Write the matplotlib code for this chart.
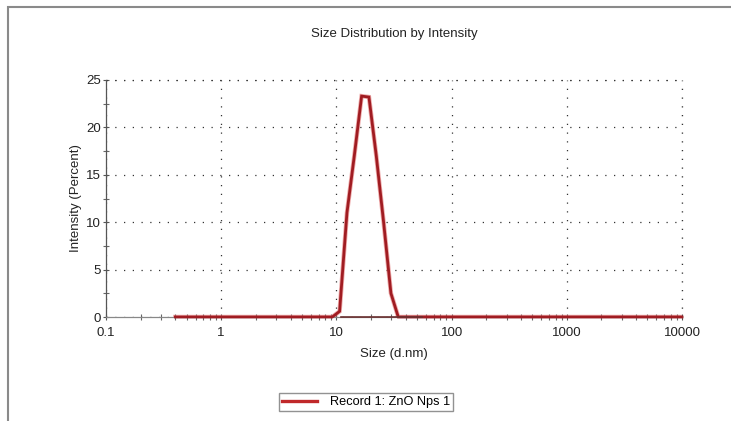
import matplotlib
matplotlib.use("Agg")
import matplotlib.pyplot as plt
from matplotlib.ticker import FixedLocator, NullFormatter
from matplotlib.patches import Rectangle
from matplotlib.lines import Line2D

plt.rcParams['font.family'] = ['Liberation Sans', 'DejaVu Sans']

title = "Size Distribution by Intensity"
xlabel = "Size (d.nm)"
ylabel = "Intensity (Percent)"
series_name = "Record 1: ZnO Nps 1"

sizes = [0.4, 9.21, 10.66, 12.35, 14.30, 16.55, 19.17, 22.19, 25.69, 29.74, 34.43, 10000]
intensity = [0, 0, 0.6, 11.0, 17.0, 23.3, 23.2, 17.0, 10.0, 2.5, 0, 0]

xticks = [0.1, 1, 10, 100, 1000, 10000]
xticklabels = ["0.1", "1", "10", "100", "1000", "10000"]
yticks = [0, 5, 10, 15, 20, 25]

fig = plt.figure(figsize=(7.31, 4.21), dpi=100)
# outer frame
fig.patches.append(Rectangle((8/731, -0.1), 1.2, 1 - 7/421 + 0.1, transform=fig.transFigure,
                             fill=False, edgecolor='#8a8a8a', linewidth=1.5))

ax = fig.add_axes([106/731, 1 - 317/421, (682 - 106)/731, (317 - 80)/421])
ax.set_xscale('log')
ax.set_xlim(0.1, 10000)
ax.set_ylim(0, 25)

for s in ['top', 'right']:
    ax.spines[s].set_visible(False)
ax.spines['left'].set_color('#555555')
ax.spines['bottom'].set_color('#888888')
ax.spines['left'].set_linewidth(0.9)
ax.spines['bottom'].set_linewidth(0.9)

ax.xaxis.set_major_locator(FixedLocator(xticks))
ax.set_xticklabels(xticklabels)
minor_x = [m * 10.0**e for e in range(-1, 4) for m in range(2, 10)]
ax.xaxis.set_minor_locator(FixedLocator(minor_x))
ax.xaxis.set_minor_formatter(NullFormatter())
ax.set_yticks(yticks)
ax.yaxis.set_minor_locator(FixedLocator([2.5, 7.5, 12.5, 17.5, 22.5]))

ax.tick_params(axis='both', which='major', length=5, width=0.8, color='#555555',
               labelsize=9.5, labelcolor='#222222', direction='inout')
ax.tick_params(axis='both', which='minor', length=4, width=0.8, color='#666666', direction='inout')
ax.tick_params(axis='x', which='major', pad=5)
ax.tick_params(axis='y', which='major', pad=1)

ax.grid(True, which='major', color='#333333', linestyle=(0, (1, 6)), linewidth=0.9)
ax.axhline(25, color='#333333', linestyle=(0, (1, 6)), linewidth=0.9, clip_on=False)
ax.axvline(10000, color='#333333', linestyle=(0, (1, 6)), linewidth=0.9, clip_on=False)

ax.plot(sizes, intensity, color='#e06666', linewidth=3.2, alpha=0.55, solid_joinstyle='miter', zorder=3)
ax.plot(sizes, intensity, color='#a01c22', linewidth=2.0, solid_joinstyle='miter', zorder=4,
        clip_on=False)
ax.plot([10.9, 55], [0, 0], color='#6a3030', linewidth=1.2, zorder=5, clip_on=False)

ax.set_title(title, fontsize=9.5, color='#222222', pad=31)
ax.set_xlabel(xlabel, fontsize=9.5, color='#222222', labelpad=6)
ax.set_ylabel(ylabel, fontsize=9.5, color='#222222', labelpad=3)

handle = Line2D([0], [0], color='#c0282a', linewidth=2.4)
leg = fig.legend([handle], [series_name], loc='center', bbox_to_anchor=(366/731, 1 - 402/421),
                 frameon=True, fancybox=False, fontsize=9.2, handlelength=2.8,
                 borderpad=0.2, handletextpad=1.0, borderaxespad=0)
leg.get_frame().set_edgecolor('#777777')
leg.get_frame().set_linewidth(1.0)

fig.savefig("out.png", dpi=100)
